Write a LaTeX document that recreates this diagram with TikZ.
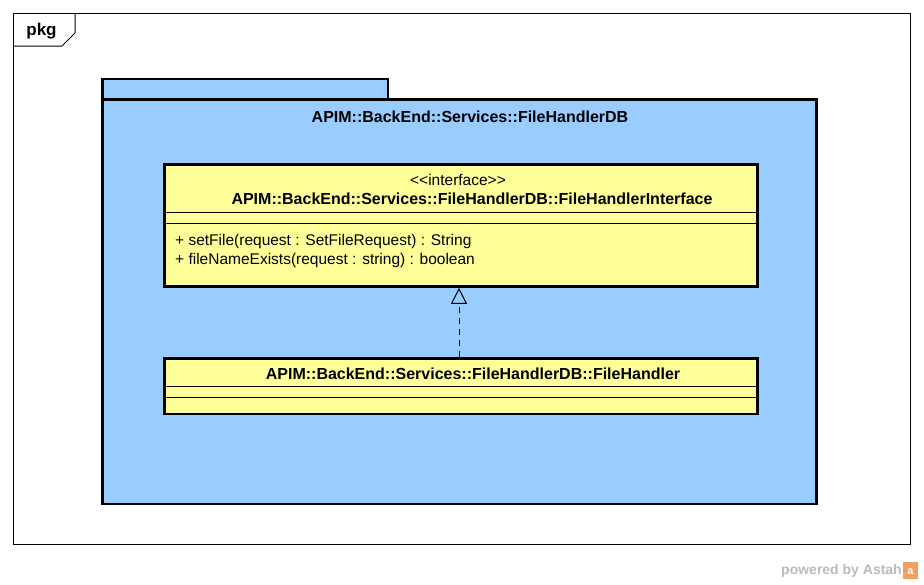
\documentclass[tikz,border=0pt]{standalone}
\usepackage{fontspec}
\setmainfont{Liberation Sans}
\newfontfamily\plainfont{Liberation Sans}
\usetikzlibrary{arrows.meta}
\definecolor{pkgblue}{HTML}{99CCFF}
\definecolor{clsyellow}{HTML}{FFFF99}
\definecolor{wmgray}{HTML}{BBBBBB}
\definecolor{wmorange}{HTML}{F0A060}
\tikzset{
  thickline/.style={line width=2.8pt},
  clsbox/.style={draw, thickline, fill=clsyellow},
  sep/.style={line width=1pt},
  txt/.style={inner sep=0pt, font=\fontsize{15.5}{18}\selectfont},
  btxt/.style={inner sep=0pt, font=\fontsize{16}{18}\selectfont\bfseries},
}
\begin{document}
\begin{tikzpicture}[x=1pt,y=-1pt]
\useasboundingbox (0,0) rectangle (924,584);
\fill[white] (0,0) rectangle (924,584);
% outer frame
\draw[line width=1pt] (13.5,13.5) rectangle (910,544);
\draw[line width=1pt] (13.5,46) -- (62,46) -- (75,33) -- (75,13.5);
\node[btxt, font=\fontsize{17}{19}\selectfont\bfseries] (pkglabel) at (41.5,31) {pkg};
% package
\draw[thickline, fill=pkgblue] (102.7,99.2) rectangle (388,79);
\draw[thickline, fill=pkgblue] (102.7,99.2) rectangle (816.5,504);
\node[btxt] (pkgtitle) at (470,117) {APIM::BackEnd::Services::FileHandlerDB};
% interface
\node[clsbox, minimum width=593, minimum height=122, inner sep=0pt, anchor=north west] (iface) at (162.8,163) {};
\draw[sep] (162.8,212) -- (755.8,212);
\draw[sep] (162.8,223) -- (755.8,223);
\node[txt, font=\fontsize{15.5}{18}\plainfont] (stereo) at (458,180) {<\kern0pt<interface>\kern0pt>};
\node[btxt] (ifname) at (472,199) {APIM::BackEnd::Services::FileHandlerDB::FileHandlerInterface};
\node[txt, anchor=west] (op1) at (175,241) {+ setFile(request : SetFileRequest) : String};
\node[txt, anchor=west] (op2) at (175,260) {+ fileNameExists(request : string) : boolean};
% class
\node[clsbox, minimum width=593, minimum height=55.5, inner sep=0pt, anchor=north west] (cls) at (162.8,357) {};
\draw[sep] (162.8,386) -- (755.8,386);
\draw[sep] (162.8,397) -- (755.8,397);
\node[btxt] (clsname) at (473,374) {APIM::BackEnd::Services::FileHandlerDB::FileHandler};
% realization
\draw[line width=1pt, dash pattern=on 6pt off 5pt, -{Triangle[open, width=16pt, length=16pt, line width=1pt]}] (cls.north -| 459,0) -- (iface.south -| 459,0);
% watermark
\node[inner sep=0pt, text=wmgray, font=\fontsize{14}{16}\selectfont\bfseries, anchor=east] (wm) at (902,571) {powered by Astah};
\fill[wmorange] (903,562) rectangle (918,579);
\node[inner sep=0pt, text=white, font=\fontsize{11}{11}\selectfont\bfseries] (wmlogo) at (910.5,572) {a};
\end{tikzpicture}
\end{document}
